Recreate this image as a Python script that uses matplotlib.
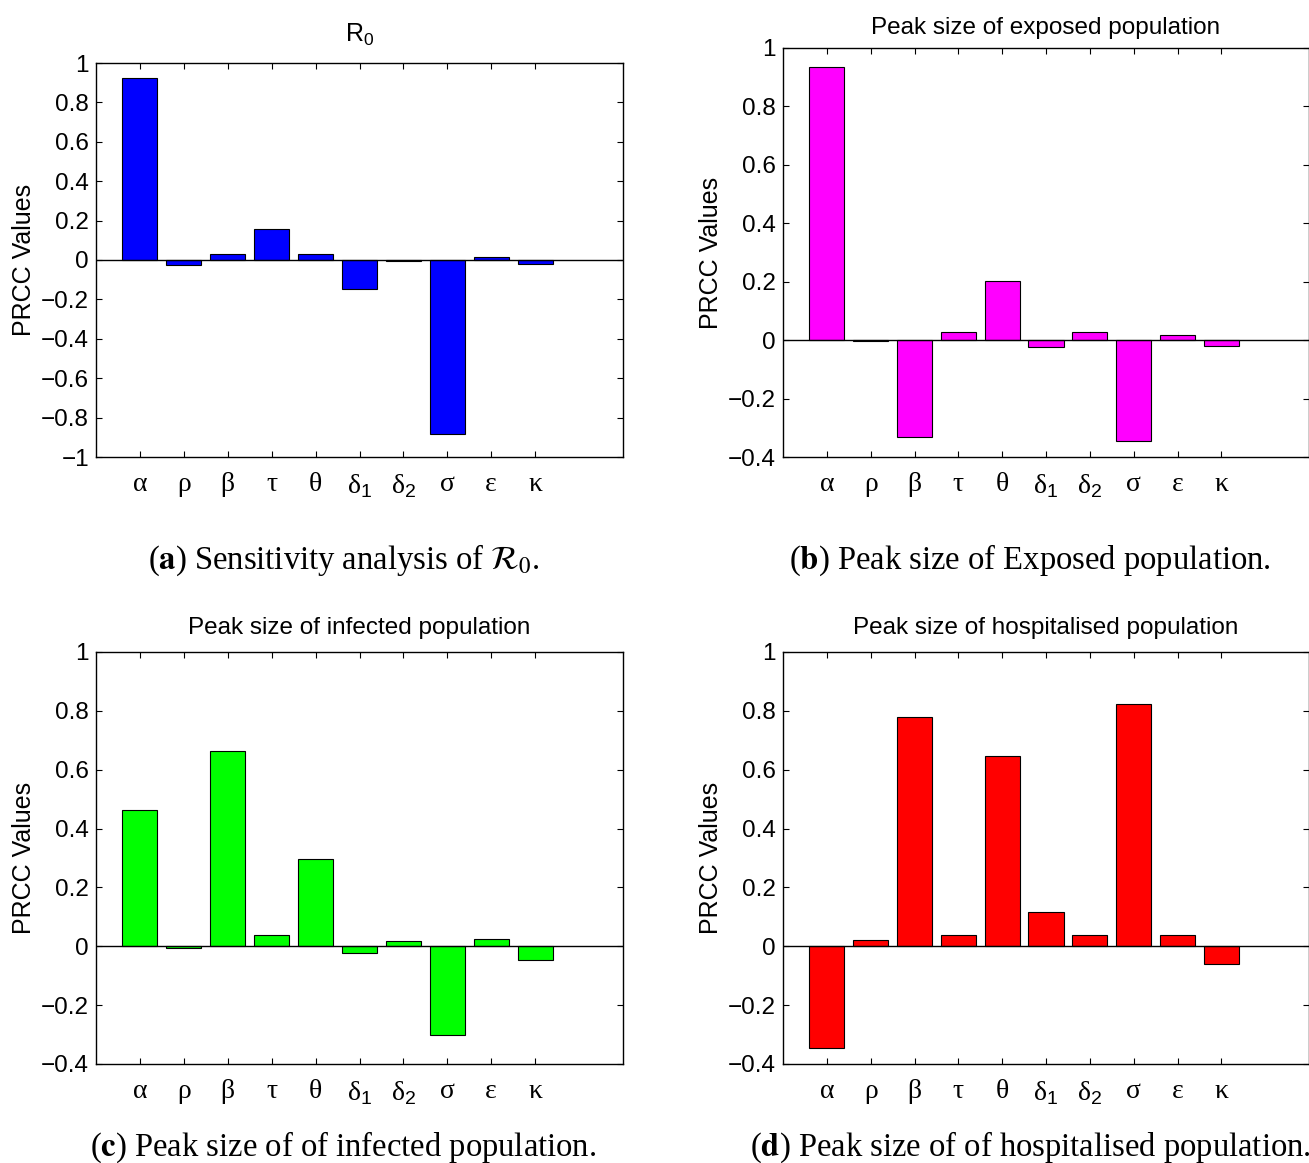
import numpy as np
import matplotlib
matplotlib.use('Agg')
import matplotlib.pyplot as plt

plt.rcParams['font.family'] = 'Liberation Sans'
plt.rcParams['mathtext.fontset'] = 'custom'
plt.rcParams['mathtext.rm'] = 'Liberation Sans'
plt.rcParams['mathtext.sf'] = 'Liberation Sans'

# parameters on the x axis
params = ['α', 'ρ', 'β', 'τ', 'θ', 'δ$_\\mathsf{1}$', 'δ$_\\mathsf{2}$', 'σ', 'ε', 'κ']

# PRCC values
prcc_r0 = [0.923, -0.026, 0.028, 0.159, 0.028, -0.146, -0.007, -0.884, 0.013, -0.019]
prcc_exposed = [0.936, -0.002, -0.333, 0.029, 0.201, -0.024, 0.028, -0.344, 0.016, -0.020]
prcc_infected = [0.463, -0.007, 0.663, 0.037, 0.297, -0.022, 0.017, -0.301, 0.024, -0.046]
prcc_hosp = [-0.347, 0.021, 0.779, 0.037, 0.645, 0.116, 0.037, 0.823, 0.038, -0.059]

titles = ['R$_\\mathsf{0}$', 'Peak size of exposed population',
          'Peak size of infected population', 'Peak size of hospitalised population']
captions = ['($\\mathbf{a}$) Sensitivity analysis of $\\mathcal{R}_0$.',
            '($\\mathbf{b}$) Peak size of Exposed population.',
            '($\\mathbf{c}$) Peak size of of infected population.',
            '($\\mathbf{d}$) Peak size of of hospitalised population.']
colors = ['#0000ff', '#ff00ff', '#00ff00', '#ff0000']
ymins = [-1, -0.4, -0.4, -0.4]

W, H = 1309, 1163
fig = plt.figure(figsize=(W / 100, H / 100), dpi=100)

# axes boxes in pixels: left, top, right, bottom
boxes = [(96, 63, 623, 457), (783, 48, 1309, 457),
         (96, 652, 623, 1064), (783, 652, 1309, 1064)]
cap_xy = [(344, 560), (1030, 560), (343, 1147), (1030, 1147)]
title_pads = [15, 10, 13, 13]

data = [prcc_r0, prcc_exposed, prcc_infected, prcc_hosp]
x = np.arange(1, len(params) + 1)

for i in range(4):
    l, t, r, b = boxes[i]
    ax = fig.add_axes([l / W, 1 - b / H, (r - l) / W, (b - t) / H])
    ax.bar(x, data[i], width=0.8, color=colors[i], edgecolor='black', linewidth=0.8, zorder=2)
    ax.axhline(0, color='black', linewidth=1.0, zorder=3)
    ax.set_xlim(0, 12)
    ax.set_ylim(ymins[i], 1)
    yt = np.round(np.arange(ymins[i], 1.001, 0.2), 1) + 0.0
    ax.set_yticks(yt)
    ax.set_yticklabels([('%g' % v).replace('-', '\u2212') for v in yt], fontsize=17.5)
    ax.set_xticks(x)
    ax.set_xticklabels(params, fontfamily='Liberation Serif', fontsize=20)
    ax.tick_params(direction='in', length=4, width=0.8, top=True, right=True)
    ax.tick_params(axis='x', pad=11)
    ax.tick_params(axis='y', pad=5)
    for sp in ax.spines.values():
        sp.set_linewidth(1.0)
    ax.set_ylabel('PRCC Values', fontsize=18)
    ax.set_title(titles[i], fontsize=18 if i == 0 else 17.5, pad=title_pads[i])
    fig.text(cap_xy[i][0] / W, 1 - cap_xy[i][1] / H, captions[i], ha='center', va='center',
             fontfamily='Liberation Serif', fontsize=23.5, math_fontfamily='stix')

fig.savefig('out.png', dpi=100)
